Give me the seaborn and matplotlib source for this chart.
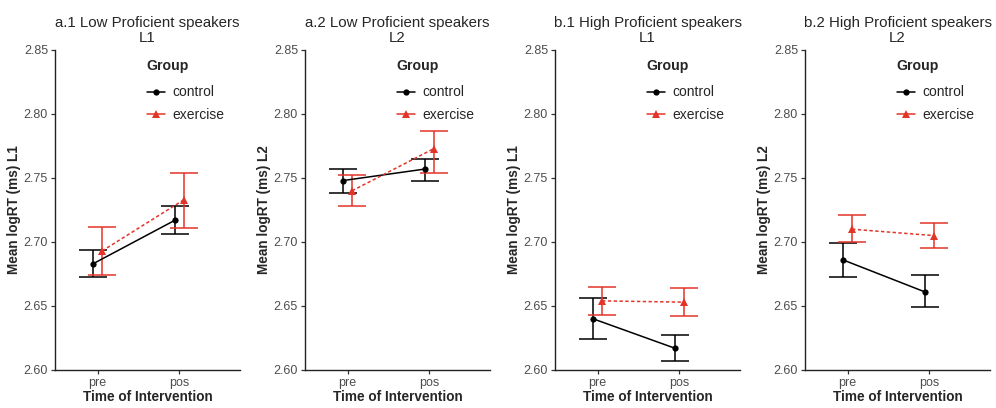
import pandas as pd
import matplotlib.pyplot as plt
import seaborn as sns
from matplotlib.lines import Line2D

# Panel titles and y labels
titles = ['a.1 Low Proficient speakers\nL1', 'a.2 Low Proficient speakers\nL2',
          'b.1 High Proficient speakers\nL1', 'b.2 High Proficient speakers\nL2']
ylabels = ['Mean logRT (ms) L1', 'Mean logRT (ms) L2',
           'Mean logRT (ms) L1', 'Mean logRT (ms) L2']
times = ['pre', 'pos']
groups = ['control', 'exercise']

# means [pre, pos] per panel, with error bar limits
control_mean = [[2.683, 2.717], [2.748, 2.757], [2.640, 2.617], [2.686, 2.661]]
control_lo = [[2.673, 2.706], [2.738, 2.748], [2.624, 2.607], [2.673, 2.649]]
control_hi = [[2.694, 2.728], [2.757, 2.765], [2.656, 2.627], [2.699, 2.674]]
exercise_mean = [[2.693, 2.733], [2.740, 2.773], [2.654, 2.653], [2.710, 2.705]]
exercise_lo = [[2.674, 2.711], [2.728, 2.754], [2.643, 2.642], [2.700, 2.695]]
exercise_hi = [[2.712, 2.754], [2.752, 2.787], [2.665, 2.664], [2.721, 2.715]]

colors = {'control': 'black', 'exercise': '#E3342A'}
markers = {'control': 'o', 'exercise': '^'}
msize = {'control': 4.5, 'exercise': 5.5}
dashes = {'control': '', 'exercise': (2.2, 1.6)}
offset = {'control': -0.055, 'exercise': 0.055}


def panel_frame(i):
    rows = []
    for g, m, lo, hi in [('control', control_mean, control_lo, control_hi),
                         ('exercise', exercise_mean, exercise_lo, exercise_hi)]:
        for j, t in enumerate(times):
            rows.append({'time': t, 'group': g, 'x': j + offset[g],
                         'mean': m[i][j], 'lo': lo[i][j], 'hi': hi[i][j]})
    return pd.DataFrame(rows)


sns.set_style('ticks')
plt.rcParams['font.family'] = ['Liberation Sans', 'DejaVu Sans']

fig = plt.figure(figsize=(9.96, 4.08), dpi=100)

for i in range(4):
    ax = fig.add_axes([(55 + 250 * i) / 996, 38 / 408, 185 / 996, 320 / 408])
    df = panel_frame(i)

    for g in groups:
        d = df[df['group'] == g]
        ax.errorbar(d['x'], d['mean'], yerr=[d['mean'] - d['lo'], d['hi'] - d['mean']],
                    fmt='none', ecolor=colors[g], elinewidth=1.1, capsize=10,
                    capthick=1.1, zorder=2)
        sns.lineplot(data=d, x='x', y='mean', color=colors[g], marker=markers[g],
                     markersize=msize[g], markeredgewidth=0, linewidth=1.1,
                     linestyle='-' if g == 'control' else (0, dashes[g]),
                     legend=False, ax=ax, zorder=3)

    ax.set_xlim(-0.52, 1.74)
    ax.set_ylim(2.60, 2.85)
    ax.set_xticks([0, 1])
    ax.set_xticklabels(times)
    ax.set_yticks([2.60, 2.65, 2.70, 2.75, 2.80, 2.85])
    ax.set_yticklabels(['2.60', '2.65', '2.70', '2.75', '2.80', '2.85'])
    ax.tick_params(axis='both', labelsize=9, labelcolor='#4D4D4D', color='#333333',
                   length=3, width=0.9, pad=2)
    for s in ['top', 'right']:
        ax.spines[s].set_visible(False)
    for s in ['left', 'bottom']:
        ax.spines[s].set_color('#222222')
        ax.spines[s].set_linewidth(1.0)

    ax.set_xlabel('Time of Intervention', fontsize=9.8, fontweight='bold', labelpad=1)
    ax.set_ylabel(ylabels[i], fontsize=9.8, fontweight='bold', labelpad=2)
    ax.set_title(titles[i], fontsize=10.8, pad=6, linespacing=1.1)

    handles = [Line2D([0], [0], color=colors[g], marker=markers[g], markersize=msize[g],
                      markeredgewidth=0, linewidth=1.1) for g in groups]
    leg = ax.legend(handles, groups, title='Group', loc='upper left',
                    bbox_to_anchor=(0.495, 0.972), frameon=False, fontsize=10,
                    borderpad=0, borderaxespad=0, handlelength=1.3,
                    handletextpad=0.58, labelspacing=0.6, alignment='left')
    leg.get_title().set_fontweight('bold')
    leg.get_title().set_fontsize(10.2)
    leg._legend_box.sep = 9

fig.savefig('out.png', dpi=100)
